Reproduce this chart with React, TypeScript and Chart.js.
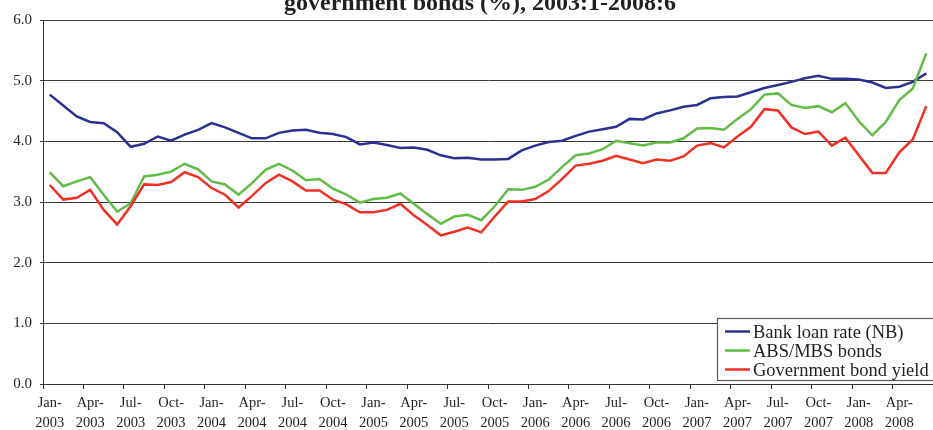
import React, { useEffect, useRef } from "react";
import { Chart, registerables } from "chart.js";

Chart.register(...registerables);

const monthNames = ["Jan", "Feb", "Mar", "Apr", "May", "Jun", "Jul", "Aug", "Sep", "Oct", "Nov", "Dec"];
const years = ["2003", "2004", "2005", "2006", "2007", "2008"];
const categories: string[] = [];
years.forEach((y) => {
  monthNames.forEach((m, mi) => {
    if (y === "2008" && mi > 5) return;
    categories.push(`${m}-${y}`);
  });
});

const bankLoanRate = [
  4.77, 4.59, 4.41, 4.32, 4.30, 4.15, 3.91, 3.96, 4.08, 4.01, 4.11, 4.19,
  4.30, 4.23, 4.14, 4.05, 4.05, 4.14, 4.18, 4.19, 4.14, 4.12, 4.07, 3.95,
  3.98, 3.94, 3.89, 3.90, 3.86, 3.77, 3.72, 3.73, 3.70, 3.70, 3.71, 3.85,
  3.93, 3.99, 4.01, 4.09, 4.16, 4.20, 4.24, 4.37, 4.36, 4.46, 4.51, 4.57,
  4.60, 4.71, 4.73, 4.74, 4.81, 4.88, 4.93, 4.98, 5.04, 5.08, 5.03, 5.03,
  5.02, 4.97, 4.88, 4.90, 4.98, 5.12,
];

const absMbsBonds = [
  3.49, 3.26, 3.34, 3.41, 3.12, 2.84, 2.98, 3.42, 3.45, 3.50, 3.63, 3.54,
  3.34, 3.29, 3.12, 3.31, 3.53, 3.63, 3.52, 3.36, 3.38, 3.22, 3.12, 2.99,
  3.05, 3.07, 3.14, 2.97, 2.80, 2.64, 2.76, 2.79, 2.70, 2.93, 3.21, 3.20,
  3.25, 3.37, 3.58, 3.77, 3.80, 3.87, 4.01, 3.97, 3.93, 3.98, 3.98, 4.05,
  4.21, 4.22, 4.19, 4.37, 4.53, 4.77, 4.79, 4.60, 4.55, 4.58, 4.48, 4.63,
  4.33, 4.10, 4.32, 4.68, 4.87, 5.45,
];

const governmentBondYield = [
  3.28, 3.04, 3.07, 3.20, 2.87, 2.63, 2.93, 3.29, 3.28, 3.33, 3.49, 3.41,
  3.23, 3.12, 2.91, 3.10, 3.31, 3.45, 3.34, 3.19, 3.19, 3.04, 2.96, 2.83,
  2.83, 2.87, 2.97, 2.78, 2.62, 2.45, 2.51, 2.58, 2.50, 2.76, 3.01, 3.01,
  3.05, 3.18, 3.38, 3.60, 3.63, 3.68, 3.76, 3.70, 3.64, 3.70, 3.68, 3.75,
  3.93, 3.97, 3.90, 4.08, 4.24, 4.53, 4.51, 4.23, 4.12, 4.16, 3.93, 4.06,
  3.77, 3.48, 3.48, 3.82, 4.03, 4.58,
];

const seriesLabels = ["Bank loan rate (NB)", "ABS/MBS bonds", "Government bond yield"];
const titleText = "government bonds (%), 2003:1-2008:6";

const FONT = "'Liberation Serif', 'Times New Roman', serif";
const INK = "#231f20";

const overlayPlugin = {
  id: "overlay",
  afterDraw(chart: any) {
    const ctx = chart.ctx;
    ctx.save();
    // title (partially cut at top as in the reference)
    ctx.font = `bold 24px ${FONT}`;
    ctx.fillStyle = INK;
    ctx.textAlign = "center";
    ctx.textBaseline = "alphabetic";
    ctx.fillText(titleText, 480, 10);

    // legend box
    const bx = 717.5;
    const by = 318.5;
    const bw = 230;
    const bh = 62;
    ctx.fillStyle = "#ffffff";
    ctx.fillRect(bx, by, bw, bh);
    ctx.strokeStyle = "#5a5a5a";
    ctx.lineWidth = 1.2;
    ctx.strokeRect(bx, by, bw, bh);
    ctx.font = `18.5px ${FONT}`;
    ctx.textAlign = "left";
    ctx.textBaseline = "alphabetic";
    const rows = [331.5, 350.5, 369.5];
    chart.data.datasets.forEach((ds: any, i: number) => {
      const y = rows[i];
      ctx.strokeStyle = ds.borderColor;
      ctx.lineWidth = 2.5;
      ctx.beginPath();
      ctx.moveTo(725, y);
      ctx.lineTo(750, y);
      ctx.stroke();
      ctx.fillStyle = INK;
      ctx.fillText(ds.label, 753, y + 6);
    });
    ctx.restore();
  },
};

export default function App() {
  const canvasRef = useRef<HTMLCanvasElement | null>(null);

  useEffect(() => {
    if (!canvasRef.current) return;
    const chart = new Chart(canvasRef.current, {
      type: "line",
      data: {
        labels: categories,
        datasets: [
          {
            label: seriesLabels[0],
            data: bankLoanRate,
            borderColor: "#2b3192",
            backgroundColor: "#2b3192",
            borderWidth: 2.5,
            pointRadius: 0,
            tension: 0,
            order: 3,
          },
          {
            label: seriesLabels[1],
            data: absMbsBonds,
            borderColor: "#62bb46",
            backgroundColor: "#62bb46",
            borderWidth: 2.5,
            pointRadius: 0,
            tension: 0,
            order: 2,
          },
          {
            label: seriesLabels[2],
            data: governmentBondYield,
            borderColor: "#ee3124",
            backgroundColor: "#ee3124",
            borderWidth: 2.5,
            pointRadius: 0,
            tension: 0,
            order: 1,
          },
        ],
      },
      options: {
        responsive: false,
        animation: false,
        devicePixelRatio: 1,
        layout: { padding: { top: 20, left: 0, right: 0, bottom: 0 } },
        plugins: {
          legend: { display: false },
          title: { display: false },
          tooltip: { enabled: false },
        },
        scales: {
          x: {
            type: "category",
            offset: true,
            grid: {
              offset: true,
              drawOnChartArea: false,
              drawTicks: true,
              tickLength: 5,
              color: (ctx: any) => (ctx.index % 3 === 0 ? "#333333" : "rgba(0,0,0,0)"),
            },
            border: { display: true, color: "#333333", width: 1 },
            ticks: {
              autoSkip: false,
              maxRotation: 0,
              minRotation: 0,
              padding: 5,
              color: INK,
              font: { family: FONT, size: 14.5, lineHeight: 1.32 },
              callback: function (this: any, value: any, index: number) {
                if (index % 3 !== 0) return "";
                const lab: string = this.getLabelForValue(value);
                const parts = lab.split("-");
                return [parts[0] + "-", parts[1]];
              },
            },
            afterFit: (scale: any) => {
              scale.height = 46;
            },
          },
          y: {
            min: 0,
            max: 6,
            ticks: {
              stepSize: 1,
              padding: 8,
              color: INK,
              font: { family: FONT, size: 15 },
              callback: (v: any) => Number(v).toFixed(1),
            },
            grid: {
              color: "#3a3a3a",
              lineWidth: 1,
              tickLength: 3,
            },
            border: { display: true, color: "#333333", width: 1 },
            afterFit: (scale: any) => {
              scale.width = 43;
            },
          },
        },
      },
      plugins: [overlayPlugin],
    });
    return () => chart.destroy();
  }, []);

  return (
    <div style={{ position: "absolute", left: 0, top: 0, width: 933, height: 430, background: "#ffffff" }}>
      <canvas ref={canvasRef} width={933} height={430} style={{ display: "block" }} />
    </div>
  );
}
